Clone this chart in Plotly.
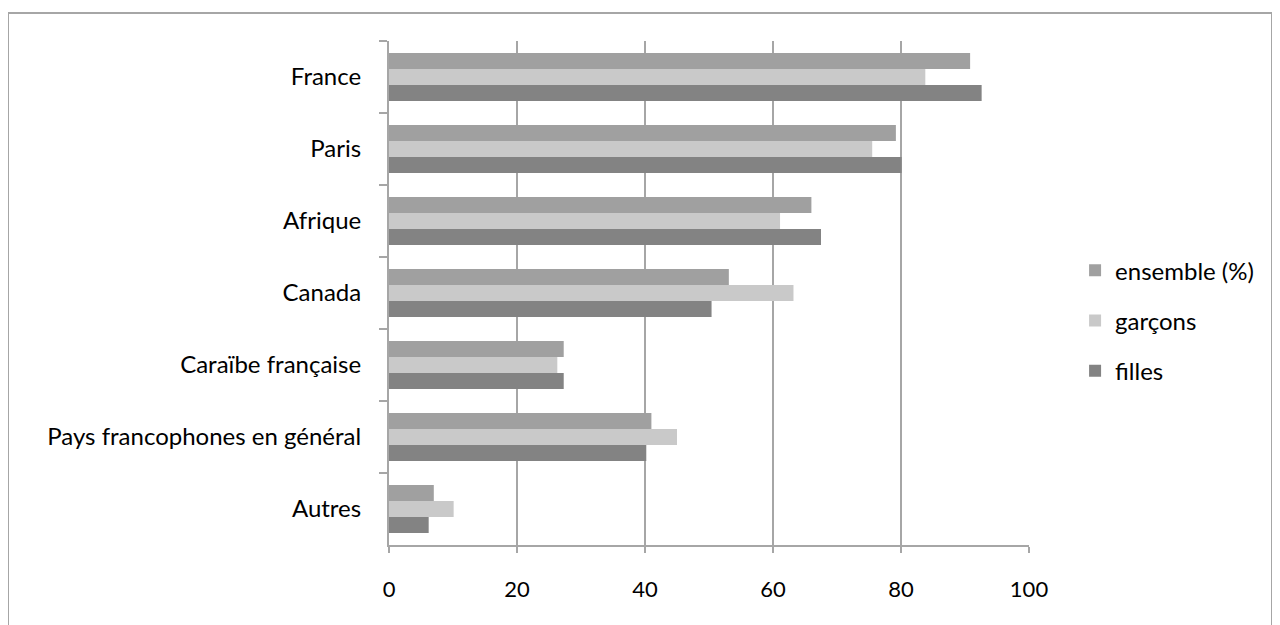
import plotly.graph_objects as go

categories = ["France", "Paris", "Afrique", "Canada", "Caraïbe française",
              "Pays francophones en général", "Autres"]
ensemble = [90.8, 79.2, 66.0, 53.1, 27.3, 41.0, 7.0]
garcons = [83.8, 75.5, 61.1, 63.2, 26.3, 45.0, 10.1]
filles = [92.6, 80.1, 67.5, 50.4, 27.3, 40.2, 6.2]
series_names = ["ensemble (%)", "garçons", "filles"]
series_colors = ["#A0A0A0", "#C9C9C9", "#838383"]
x_ticks = [0, 20, 40, 60, 80, 100]

FONT = "Lato"
GRID = "#A6A6A6"

fig = go.Figure()
for i, (name, vals, col) in enumerate(zip(series_names, [ensemble, garcons, filles], series_colors)):
    fig.add_trace(go.Bar(
        y=categories, x=vals, name=name, orientation="h",
        marker=dict(color=col, line=dict(width=0)),
        legendgroup=f"g{i}",
    ))

# page body has an 8px margin, so plot area sits at screen x 389..1029, y 41..545
fig.update_layout(
    width=1280, height=625,
    margin=dict(l=381, r=259, t=33, b=88),
    paper_bgcolor="white", plot_bgcolor="white",
    barmode="group", bargap=0.333, bargroupgap=0,
    font=dict(family=FONT, size=24, color="#000000"),
    showlegend=True,
    legend=dict(
        x=1.072, y=0.445, xanchor="left", yanchor="middle",
        traceorder="grouped", tracegroupgap=16,
        font=dict(family=FONT, size=24, color="#000000"),
        itemwidth=30, bgcolor="rgba(0,0,0,0)",
    ),
    xaxis=dict(
        range=[0, 100], tickvals=x_ticks, ticktext=[str(v) for v in x_ticks],
        showgrid=True, gridcolor=GRID, gridwidth=2,
        showline=True, linecolor=GRID, linewidth=1.5,
        ticks="outside", ticklen=6, tickcolor=GRID, tickwidth=1.5,
        ticklabelstandoff=18, zeroline=False,
        tickfont=dict(family=FONT, size=22),
    ),
    yaxis=dict(
        autorange="reversed", type="category",
        showline=True, linecolor=GRID, linewidth=2,
        ticks="outside", ticklen=8, tickcolor=GRID, tickwidth=2,
        tickson="boundaries", showgrid=False, zeroline=False,
        ticklabelstandoff=21,
        tickfont=dict(family=FONT, size=24),
    ),
)

# outer chart border
fig.add_shape(type="rect", xref="paper", yref="paper",
              x0=(8 - 389) / 640, x1=(1272 - 389) / 640,
              y0=(545 - 640) / 504, y1=(545 - 13) / 504,
              line=dict(color="#A6A6A6", width=2), fillcolor="rgba(0,0,0,0)", layer="below")

fig.write_html("out.html")
